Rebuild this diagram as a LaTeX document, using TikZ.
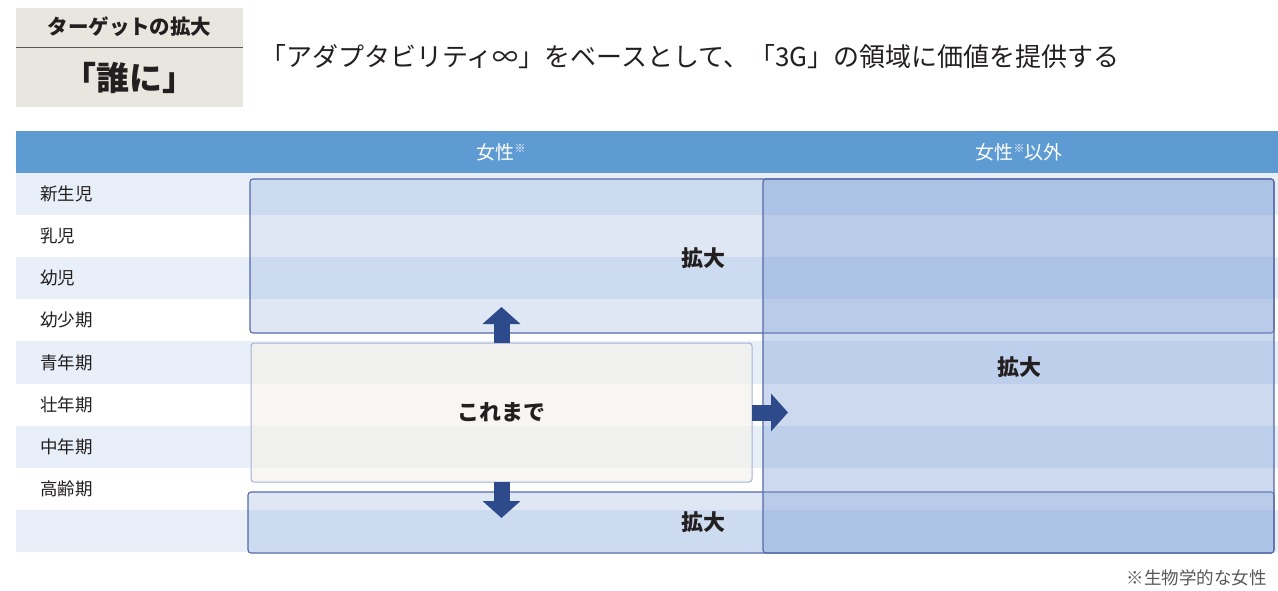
\documentclass[tikz,border=0pt]{standalone}
\usepackage{fontspec}
\setmainfont{Noto Sans CJK JP}
\usetikzlibrary{arrows.meta}
\definecolor{beige}{HTML}{E9E5DF}
\definecolor{hdr}{HTML}{5F9BD3}
\definecolor{stripe}{HTML}{E8EFF9}
\definecolor{boxfill}{HTML}{7FA0D6}
\definecolor{boxline}{HTML}{5468A8}
\definecolor{nowfill}{RGB}{244,242,236}
\definecolor{nowline}{HTML}{A3B1D6}
\definecolor{arr}{HTML}{2D4A8B}
\definecolor{txt}{HTML}{231F20}
\definecolor{note}{HTML}{595757}
\tikzset{
  fs/.style={font=\fontsize{#1}{#1}\selectfont},
  rowlabel/.style={fs=17.5, text=txt, anchor=west, inner sep=0pt},
  hdrtext/.style={fs=19, text=white, inner sep=0pt},
  bigtext/.style={font=\bfseries\fontsize{22}{22}\selectfont, text=txt, inner sep=0pt},
  area/.style={draw=boxline, line width=1.1pt, rounded corners=3pt, fill=boxfill, anchor=north west, inner sep=0pt, outer sep=0pt},
  nowbox/.style={draw=nowline, line width=1pt, rounded corners=3pt, fill=nowfill, fill opacity=0.7, anchor=north west, inner sep=0pt, outer sep=0pt},
  blockarrow/.style={draw=arr, line width=16pt, -{Triangle[width=37pt,length=17pt]}},
}
\begin{document}
\begin{tikzpicture}[x=1pt,y=-1pt]
\useasboundingbox (0,0) rectangle (1278,590);
% tag box
\node[fill=beige, minimum width=227pt, minimum height=99pt, anchor=north west, inner sep=0pt] (tag) at (16,8) {};
\draw[color=note, line width=1pt] (16,47) -- (243,47);
\node[font=\bfseries\fontsize{20.5}{20.5}\selectfont, text=txt, inner sep=0pt] (tagtitle) at (129.5,27) {ターゲットの拡大};
\node[font=\bfseries\fontsize{33}{33}\selectfont, text=txt, inner sep=0pt] (who) at (129.5,78) {「誰に」};
% title
\node[fs=26, text=txt, anchor=west, inner sep=0pt] (title) at (260,57) {「アダプタビリティ∞」をベースとして、「3G」の領域に価値を提供する};
% header
\fill[hdr] (16,131) rectangle (1278,173);
\node[hdrtext] (hw) at (501,152) {女性{\fontsize{11}{11}\selectfont\raisebox{7pt}{※}}};
\node[hdrtext] (hnw) at (1019,152) {女性{\fontsize{11}{11}\selectfont\raisebox{7pt}{※}}以外};
% stripes
\foreach \i in {0,2,4,6,8} {
  \fill[stripe] (16,{173+42.1*\i}) rectangle (1278,{173+42.1*(\i+1)});
}
% row labels
\foreach \t [count=\i from 0] in {新生児,乳児,幼児,幼少期,青年期,壮年期,中年期,高齢期} {
  \node[rowlabel] (row\i) at (40,{173+42.1*(\i+0.5)}) {\t};
}
% areas
\node[area, fill opacity=0.25, minimum width=1024pt, minimum height=154pt] (up) at (250,179) {};
\node[area, fill opacity=0.25, minimum width=1026pt, minimum height=61pt] (down) at (248,492) {};
\node[area, fill opacity=0.4, minimum width=511pt, minimum height=374pt] (right) at (763,179) {};
\node[nowbox, minimum width=501pt, minimum height=139pt] (now) at (251,343) {};
% arrows
\draw[blockarrow] (now.north) -- ++(0,-36);
\draw[blockarrow] (now.south) -- ++(0,36);
\draw[blockarrow] (now.east) -- ++(36,0);
% texts
\node[bigtext] (tup) at (703,258) {拡大};
\node[bigtext] (tright) at (1019,367) {拡大};
\node[bigtext] (tdown) at (703,522) {拡大};
\node[bigtext] (tnow) at (now.center) {これまで};
% footnote
\node[fs=17.5, text=note, anchor=east, inner sep=0pt] (foot) at (1267,578) {※生物学的な女性};
\end{tikzpicture}
\end{document}
